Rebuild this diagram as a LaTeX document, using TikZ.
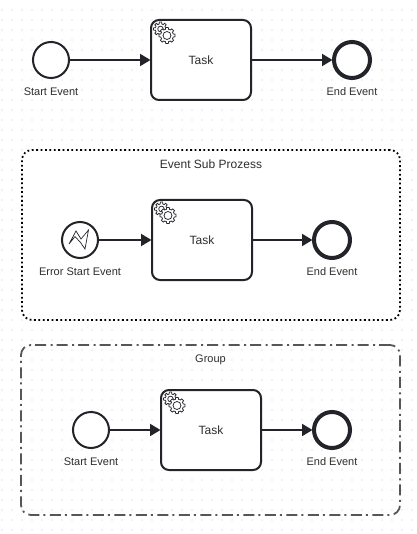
\documentclass[tikz,border=0pt]{standalone}
\usepackage{xcolor}
\usepackage{fontspec}
\setmainfont{Liberation Sans}
\usetikzlibrary{arrows.meta, positioning}
\definecolor{ink}{HTML}{22242A}
\definecolor{mute}{HTML}{2E2E2E}
\definecolor{griddot}{HTML}{C8C8C8}
\definecolor{groupline}{HTML}{55555A}
\tikzset{
  startev/.style ={circle, draw=ink, line width=2pt, fill=white, minimum size=36pt, inner sep=0pt},
  endev/.style   ={startev, line width=4pt},
  taskbox/.style ={draw=ink, line width=2pt, rounded corners=8pt, fill=white,
                   minimum width=100pt, minimum height=80pt, inner sep=0pt,
                   font=\fontsize{12}{14}\selectfont, text=mute},
  evlabel/.style ={font=\fontsize{11}{13}\selectfont, text=mute, inner sep=0pt},
  flow/.style    ={-{Triangle[length=10.5pt,width=12pt]}, line width=2pt, draw=ink, shorten >=-0.5pt},
  subframe/.style={draw=black, line width=1.8pt, rounded corners=10pt, fill=white,
                   dash pattern=on 1.8pt off 2.6pt},
  grpframe/.style={draw=groupline, line width=1.8pt, rounded corners=10pt,
                   dash pattern=on 11pt off 4pt on 2pt off 4.5pt},
  gear/.style    ={draw=ink, line width=0.75pt, fill=white},
  taskgears/.pic={
    \foreach \cx/\cy/\gr in {10.5/10/7, 17/16.5/8.2} {
      \begin{scope}[shift={(\cx,\cy)}]
        \draw[gear] (-14:\gr-1.8)
          foreach \a in {0,45,...,315} {
            -- (\a-14:\gr-1.8) -- (\a-9:\gr) -- (\a+9:\gr) -- (\a+14:\gr-1.8)
          } -- cycle;
        \draw[gear] (0,0) circle[radius=\gr-4.2];
      \end{scope}
    }
  }
}
\begin{document}
\begin{tikzpicture}[x=1pt, y=-1pt]
  \useasboundingbox (0,0) rectangle (416,534);
  \fill[white] (0,0) rectangle (416,534);

  % dotted canvas
  \foreach \ix in {0,...,41} {
    \foreach \iy in {1,...,53} {
      \fill[griddot] (2+10*\ix,10*\iy) circle[radius=0.55];
    }
  }

  % frames
  \node[subframe, minimum width=378pt, minimum height=170pt, inner sep=0pt] (sub) at (211,235) {};
  \node[grpframe, minimum width=379pt, minimum height=170pt, inner sep=0pt] (grp) at (210.5,430) {};
  \node[evlabel, font=\fontsize{12}{14}\selectfont, below=10.5pt of sub.north] (subtitle) {Event Sub Prozess};
  \node[evlabel, below=10.5pt of grp.north] (grptitle) {Group};

  % top row
  \node[taskbox] (t1) at (201,60) {Task};
  \node[startev, left=80pt of t1] (s1) {};
  \node[endev, right=80pt of t1] (e1) {};
  \node[evlabel, below=9pt of s1] (s1l) {Start Event};
  \node[evlabel, below=7pt of e1] (e1l) {End Event};
  \pic at (t1.north west) {taskgears};
  \draw[flow] (s1) -- (t1);
  \draw[flow] (t1) -- (e1);

  % event sub process
  \node[taskbox] (t2) at (202,240) {Task};
  \node[startev, left=52pt of t2] (s2) {};
  \node[endev, right=59pt of t2] (e2) {};
  \node[evlabel, below=9pt of s2] (s2l) {Error Start Event};
  \node[evlabel, below=7pt of e2] (e2l) {End Event};
  \pic at (t2.north west) {taskgears};
  \draw[ink, line width=0.7pt, line join=miter, shift={(s2.center)}]
    (-11,4) -- (-4,-9) -- (1,-1) -- (8.5,-10) -- (5,9) -- (0.5,2.5) -- (-5,-3.5) -- cycle;
  \draw[flow] (s2) -- (t2);
  \draw[flow] (t2) -- (e2);

  % group
  \node[taskbox] (t3) at (211,430) {Task};
  \node[startev, left=50pt of t3] (s3) {};
  \node[endev, right=50pt of t3] (e3) {};
  \node[evlabel, below=9pt of s3] (s3l) {Start Event};
  \node[evlabel, below=7pt of e3] (e3l) {End Event};
  \pic at (t3.north west) {taskgears};
  \draw[flow] (s3) -- (t3);
  \draw[flow] (t3) -- (e3);
\end{tikzpicture}
\end{document}
